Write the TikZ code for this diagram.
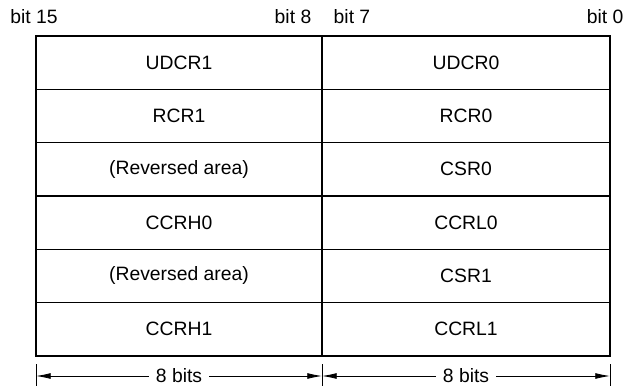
\documentclass[tikz,border=0pt]{standalone}
\usepackage{fontspec}
\setmainfont{Liberation Sans}
\usetikzlibrary{arrows.meta}
\usetikzlibrary{calc}

\begin{document}
\begin{tikzpicture}[x=0.75pt,y=-0.75pt,
    font=\fontsize{14.5}{17}\selectfont,
    frame/.style={line width=1.6pt},
    cell/.style={line width=0.8pt},
    dim/.style={{Latex[length=11pt,width=4.4pt]}-{Latex[length=11pt,width=4.4pt]}, line width=0.6pt},
    dimlabel/.style={fill=white, inner sep=5pt}]
    \useasboundingbox (0,0) rectangle (629,386);

    \coordinate (topleft) at (36,36);
    \coordinate (botright) at (610,356);

    % register cells
    \foreach \i in {1,...,5}
        \draw[cell] (36,36+\i*53.33) -- (610,36+\i*53.33);
    \draw[cell] (322,36) -- (322,356);
    \draw[frame] (topleft) rectangle (botright);

    \foreach \hi/\lo [count=\r] in {UDCR1/UDCR0, RCR1/RCR0, {(Reversed area)}/CSR0,
                                   CCRH0/CCRL0, {(Reversed area)}/CSR1, CCRH1/CCRL1}
    {
        \node (hi\r) at (179,36+\r*53.33-26.67) {\hi};
        \node (lo\r) at (466,36+\r*53.33-26.67) {\lo};
    }

    % bit numbers
    \node[anchor=base] (b15) at (34,23) {bit 15};
    \node[anchor=base east] (b8) at (316,23) {bit 8};
    \node[anchor=base west] (b7) at (329,23) {bit 7};
    \node[anchor=base east] (b0) at (628,23) {bit 0};

    % widths
    \coordinate (d0) at (36,376);
    \coordinate (d1) at (322,376);
    \coordinate (d2) at (610,376);
    \foreach \x in {36,322,610}
        \draw[line width=0.6pt] (\x,364) -- (\x,386);
    \draw[dim] (d0) -- (d1) node[midway, dimlabel] (w1) {8 bits};
    \draw[dim] (d1) -- (d2) node[midway, dimlabel] (w0) {8 bits};
\end{tikzpicture}
\end{document}
